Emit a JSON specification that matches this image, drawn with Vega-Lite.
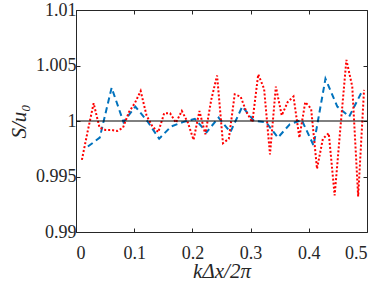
{
  "$schema": "https://vega.github.io/schema/vega-lite/v6.json",
  "width": 291,
  "height": 222,
  "autosize": "none",
  "padding": {"left": 76, "top": 10, "right": 12, "bottom": 52},
  "background": "white",
  "config": {
    "view": {"stroke": "#262626", "strokeWidth": 1},
    "font": "Liberation Serif",
    "axis": {"grid": false, "domain": false, "tickColor": "#262626", "labelColor": "#262626", "titleColor": "#262626", "labelFont": "Liberation Serif", "titleFont": "Liberation Serif", "labelFontSize": 18, "titleFontSize": 21, "titleFontWeight": "normal", "titleFontStyle": "italic", "tickSize": -4, "tickWidth": 1}
  },
  "datasets": {
    "blue": [
      {"x": 0.0204, "v": 0.9977}, {"x": 0.0408, "v": 0.9985}, {"x": 0.0612, "v": 1.0030}, {"x": 0.0816, "v": 0.9999},
      {"x": 0.1020, "v": 1.0013}, {"x": 0.1224, "v": 1.0000}, {"x": 0.1429, "v": 0.9984}, {"x": 0.1633, "v": 0.9995},
      {"x": 0.1837, "v": 0.9999}, {"x": 0.2041, "v": 1.0002}, {"x": 0.2245, "v": 0.9990}, {"x": 0.2449, "v": 1.0003},
      {"x": 0.2653, "v": 0.9990}, {"x": 0.2857, "v": 1.0013}, {"x": 0.3061, "v": 1.0000}, {"x": 0.3265, "v": 0.9999},
      {"x": 0.3469, "v": 0.9985}, {"x": 0.3673, "v": 0.9997}, {"x": 0.3878, "v": 1.0001}, {"x": 0.4082, "v": 0.9978},
      {"x": 0.4286, "v": 1.0038}, {"x": 0.4490, "v": 1.0013}, {"x": 0.4694, "v": 1.0004}, {"x": 0.4898, "v": 1.0025}
    ],
    "red": [
      {"x": 0.0101, "v": 0.9965}, {"x": 0.0202, "v": 0.9991}, {"x": 0.0303, "v": 1.0016}, {"x": 0.0404, "v": 0.9994},
      {"x": 0.0505, "v": 0.9992}, {"x": 0.0606, "v": 0.9992}, {"x": 0.0707, "v": 0.9991}, {"x": 0.0808, "v": 0.9994},
      {"x": 0.0909, "v": 1.0008}, {"x": 0.1010, "v": 1.0016}, {"x": 0.1111, "v": 1.0027}, {"x": 0.1212, "v": 1.0005},
      {"x": 0.1313, "v": 0.9995}, {"x": 0.1414, "v": 0.9990}, {"x": 0.1515, "v": 1.0007}, {"x": 0.1616, "v": 1.0007},
      {"x": 0.1717, "v": 0.99985}, {"x": 0.1818, "v": 1.0009}, {"x": 0.1919, "v": 0.9999}, {"x": 0.2020, "v": 0.9983},
      {"x": 0.2121, "v": 1.0009}, {"x": 0.2222, "v": 0.9988}, {"x": 0.2323, "v": 1.0019}, {"x": 0.2424, "v": 1.0041},
      {"x": 0.2525, "v": 0.9980}, {"x": 0.2626, "v": 0.9984}, {"x": 0.2727, "v": 1.0024}, {"x": 0.2828, "v": 1.0022},
      {"x": 0.2929, "v": 1.0008}, {"x": 0.3030, "v": 0.9999}, {"x": 0.3131, "v": 1.0042}, {"x": 0.3232, "v": 1.0029},
      {"x": 0.3333, "v": 0.9970}, {"x": 0.3434, "v": 1.0031}, {"x": 0.3535, "v": 1.0005}, {"x": 0.3636, "v": 1.0017},
      {"x": 0.3737, "v": 1.0022}, {"x": 0.3838, "v": 0.9985}, {"x": 0.3939, "v": 1.0017}, {"x": 0.4040, "v": 1.0011},
      {"x": 0.4141, "v": 0.9957}, {"x": 0.4242, "v": 0.9984}, {"x": 0.4343, "v": 0.9989}, {"x": 0.4444, "v": 0.9933},
      {"x": 0.4545, "v": 0.9995}, {"x": 0.4646, "v": 1.0055}, {"x": 0.4747, "v": 1.0031}, {"x": 0.4848, "v": 0.9932},
      {"x": 0.4949, "v": 1.0028}
    ],
    "ref": [{"y": 1}]
  },
  "layer": [
    {
      "data": {"name": "blue"},
      "mark": {"type": "line", "color": "#0072BD", "strokeWidth": 2, "strokeDash": [6, 4]},
      "encoding": {
        "x": {"field": "x", "type": "quantitative", "scale": {"domain": [0, 0.5], "nice": false},
          "axis": {"orient": "bottom", "values": [0, 0.1, 0.2, 0.3, 0.4, 0.5], "format": "~g", "labelPadding": 16, "title": "kΔx/2π", "titlePadding": -2}},
        "y": {"field": "v", "type": "quantitative", "scale": {"domain": [0.99, 1.01], "nice": false, "zero": false},
          "axis": {"orient": "left", "values": [0.99, 0.995, 1, 1.005, 1.01], "format": "~g", "labelPadding": 4, "title": "S/u₀", "titlePadding": 6}}
      }
    },
    {
      "data": {"name": "red"},
      "mark": {"type": "line", "color": "#FF0000", "strokeWidth": 2, "strokeDash": [2, 2]},
      "encoding": {
        "x": {"field": "x", "type": "quantitative", "scale": {"domain": [0, 0.5], "nice": false},
          "axis": {"orient": "top", "values": [0, 0.1, 0.2, 0.3, 0.4, 0.5], "labels": false, "title": null}},
        "y": {"field": "v", "type": "quantitative", "scale": {"domain": [0.99, 1.01], "nice": false, "zero": false},
          "axis": {"orient": "right", "values": [0.99, 0.995, 1, 1.005, 1.01], "labels": false, "title": null}}
      }
    },
    {
      "data": {"name": "ref"},
      "mark": {"type": "rule", "color": "black", "strokeWidth": 1},
      "encoding": {"y": {"field": "y", "type": "quantitative", "axis": null}}
    }
  ],
  "resolve": {"axis": {"x": "independent", "y": "independent"}}
}
